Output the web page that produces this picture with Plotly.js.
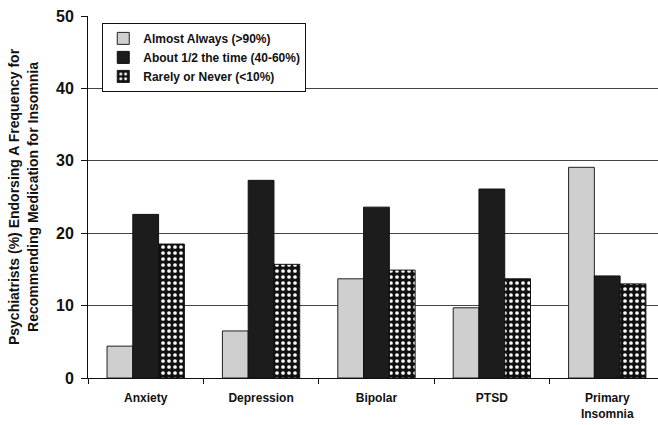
<!DOCTYPE html>
<html>
<head>
<meta charset="utf-8">
<script src="https://cdn.plot.ly/plotly-3.0.1.min.js"></script>
<style>html,body{margin:0;padding:0;background:#fff;}#chart{width:658px;height:425px;}</style>
</head>
<body>
<div id="chart"></div>
<script>
var categories = ["Anxiety", "Depression", "Bipolar", "PTSD", "Primary<br>Insomnia"];
var almostAlways = [4.4, 6.5, 13.7, 9.7, 29.1];
var aboutHalf = [22.6, 27.3, 23.6, 26.1, 14.1];
var rarelyNever = [18.5, 15.7, 14.9, 13.7, 13.0];
var seriesNames = ["Almost Always (>90%)", "About 1/2 the time (40-60%)", "Rarely or Never (<10%)"];
var yTicks = [0, 10, 20, 30, 40, 50];

var fam = "Liberation Sans, Arial, sans-serif";

var traces = [
  {type: "bar", name: seriesNames[0], x: categories, y: almostAlways,
   marker: {color: "#cfcfcf", line: {color: "#222", width: 1}}},
  {type: "bar", name: seriesNames[1], x: categories, y: aboutHalf,
   marker: {color: "#1c1c1c", line: {color: "#111", width: 1}}},
  {type: "bar", name: seriesNames[2], x: categories, y: rarelyNever,
   marker: {color: "#111", line: {color: "#111", width: 1},
            pattern: {shape: ".", fgcolor: "#ffffff", bgcolor: "#111", size: 6, solidity: 0.3}}}
];

var layout = {
  width: 658, height: 425,
  margin: {l: 88, r: 0, t: 16, b: 47},
  paper_bgcolor: "#fff", plot_bgcolor: "#fff",
  barmode: "group", bargap: 0.33, bargroupgap: 0,
  showlegend: true,
  legend: {x: 0.025, y: 0.981, xanchor: "left", yanchor: "top",
           bgcolor: "#fff", bordercolor: "#111", borderwidth: 1,
           font: {family: fam, size: 12, color: "#111", weight: "bold"},
           tracegroupgap: 0, itemwidth: 30},
  xaxis: {range: [-0.5, 4.44], showline: true, linecolor: "#111", linewidth: 1,
          ticks: "outside", tickson: "boundaries", ticklen: 5, tickcolor: "#111",
          ticklabelstandoff: 9,
          showgrid: false, tickfont: {family: fam, size: 12, color: "#111", weight: "bold"}},
  yaxis: {range: [0, 50], tickvals: yTicks, showline: true, linecolor: "#111", linewidth: 1,
          ticks: "outside", ticklen: 6, tickcolor: "#111", ticklabelstandoff: 4,
          showgrid: true, gridcolor: "#444", gridwidth: 1, zeroline: false,
          tickfont: {family: fam, size: 16, color: "#111", weight: "bold"},
          title: {text: "Psychiatrists (%) Endorsing A Frequency for<br>Recommending Medication for Insomnia",
                  font: {family: fam, size: 14, color: "#111", weight: "bold"}, standoff: 14}}
};

Plotly.newPlot("chart", traces, layout, {displayModeBar: false, staticPlot: true});
</script>
</body>
</html>
